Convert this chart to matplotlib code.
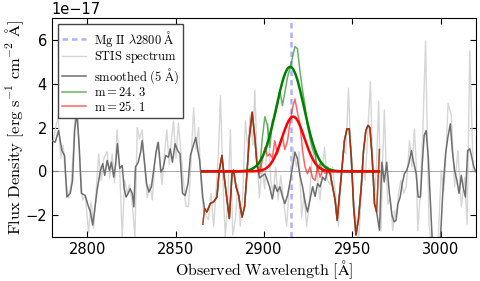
import numpy as np
import matplotlib
matplotlib.use("Agg")
import matplotlib.pyplot as plt

plt.rcParams['mathtext.fontset'] = 'cm'

# Mg II 2800 redshifted
mg_line = 2915.2

# STIS spectrum (raw), flux in 1e-17
raw_wave = [2780.0, 2781.9, 2783.6, 2785.0, 2786.4, 2787.8, 2789.5, 2790.9, 2792.2, 2793.4,
            2794.7, 2796.0, 2797.4, 2798.9, 2800.8, 2802.2, 2803.6, 2805.0, 2806.5, 2807.9,
            2809.4, 2811.3, 2812.7, 2814.1, 2815.5, 2816.9, 2818.3, 2819.8, 2821.2, 2822.6,
            2823.9, 2825.3, 2827.0, 2828.3, 2829.6, 2831.1, 2832.5, 2834.0, 2835.4, 2836.8,
            2838.2, 2839.5, 2840.9, 2842.3, 2843.6, 2845.0, 2846.4, 2847.7, 2848.8, 2850.2,
            2851.6, 2853.0, 2854.4, 2855.8, 2857.3, 2858.7, 2860.2, 2861.5, 2863.0, 2864.4,
            2865.8, 2867.2, 2868.6, 2870.0, 2871.5, 2872.9, 2874.2, 2875.4, 2876.8, 2878.1,
            2879.5, 2881.0, 2882.3, 2883.8, 2885.2, 2886.6, 2888.0, 2889.5, 2890.9, 2892.2,
            2893.6, 2894.8, 2896.2, 2897.4, 2898.8, 2900.4, 2902.3, 2903.8, 2905.2, 2906.6,
            2908.0, 2909.5, 2910.9, 2912.8, 2914.2, 2915.3, 2916.5, 2918.4, 2919.8, 2921.3,
            2922.7, 2924.1, 2925.6, 2927.0, 2928.9, 2930.3, 2931.7, 2933.0, 2934.2, 2935.8,
            2937.4, 2938.8, 2940.4, 2942.1, 2943.5, 2944.9, 2946.3, 2947.8, 2949.2, 2950.6,
            2952.0, 2953.5, 2955.0, 2956.0, 2957.3, 2958.7, 2960.2, 2961.3, 2962.4, 2963.6,
            2964.9, 2966.2, 2967.1, 2968.1, 2969.0, 2970.0, 2971.4, 2972.8, 2973.8, 2974.7,
            2976.1, 2977.5, 2979.0, 2980.4, 2981.4, 2982.3, 2983.7, 2985.1, 2986.0, 2987.0,
            2988.4, 2989.8, 2991.4, 2993.3, 2994.6, 2996.5, 2998.4, 3000.3, 3001.6, 3002.8,
            3004.1, 3005.9, 3007.8, 3009.7, 3011.6, 3013.5, 3014.9, 3016.4, 3018.3, 3020.2]
raw_flux = [1.0, 1.9, 2.5, 0.6, 1.2, -0.4, -1.2, -0.6, 1.0, 3.3,
            2.2, 0.2, -1.3, -1.1, -2.8, -1.4, -2.6, -1.0, 0.8, -0.4,
            0.6, 0.9, -0.3, 0.8, -0.5, 1.9, 0.3, -3.0, -0.4, -1.0,
            -0.6, -1.3, -3.0, 2.0, 1.5, 1.9, 0.2, -1.2, -0.6, -1.3,
            0.35, 1.3, 0.6, -0.6, 0.7, 1.9, 0.3, 1.5, 2.3, 0.6,
            2.2, 0.9, -0.4, -1.6, -1.6, 0.4, 2.9, 1.0, 2.0, -0.6,
            -1.8, -2.0, -2.2, -1.0, -2.5, -0.9, 0.9, 3.45, -0.5, -3.0,
            -1.4, 1.9, -2.9, -2.2, -0.6, -2.5, -1.0, 2.3, 1.0, 2.6,
            1.2, 3.7, 0.4, -1.2, 0.3, -0.8, 2.2, -0.4, -1.0, 0.2,
            -1.3, -0.2, -1.2, -2.5, -0.8, -0.3, 1.1, 0.2, 0.9, -2.1,
            -1.0, -2.5, -1.5, 0.5, 0.95, -0.3, -1.3, 0.0, 1.1, -0.4,
            -0.6, 0.2, -1.0, -2.5, -0.6, 1.0, 0.8, 3.8, 0.4, -1.2,
            -2.2, -3.1, -1.2, 0.2, -0.4, 1.8, 4.1, 0.8, -1.5, 0.3,
            3.2, -2.7, 0.5, 2.8, 0.4, -1.5, -1.2, -2.7, -1.8, -2.1,
            -1.0, -0.4, -1.0, -0.7, 0.3, 1.4, 0.2, 1.94, 0.5, -2.7,
            -1.0, 1.7, 5.95, -2.4, -3.3, -3.6, -3.3, 0.05, -0.9, 0.5,
            3.1, 2.6, -0.7, 0.95, -1.6, -0.26, -2.4, 5.5, 0.05, 0.05]

# smoothed (5 A) spectrum
sm_wave = [2780.0, 2781.9, 2783.8, 2785.7, 2787.2, 2788.5, 2790.4, 2791.7, 2792.9, 2794.2,
           2795.5, 2796.7, 2798.9, 2800.5, 2801.8, 2803.1, 2804.2, 2805.6, 2807.5, 2808.8,
           2809.9, 2811.3, 2812.6, 2813.7, 2815.0, 2816.0, 2817.1, 2818.4, 2819.8, 2820.9,
           2822.0, 2823.2, 2824.3, 2825.5, 2826.4, 2827.3, 2828.9, 2830.2, 2831.1, 2832.3,
           2833.6, 2834.9, 2836.3, 2837.8, 2839.0, 2840.2, 2841.7, 2842.9, 2844.4, 2845.9,
           2847.0, 2848.2, 2849.7, 2851.2, 2852.5, 2853.9, 2855.4, 2857.0, 2858.4, 2860.0,
           2861.4, 2862.6, 2863.6, 2864.6, 2865.4, 2866.4, 2867.7, 2869.6, 2871.5, 2873.4,
           2874.7, 2876.2, 2877.5, 2879.1, 2880.4, 2881.9, 2882.8, 2884.2, 2885.7, 2886.6,
           2887.6, 2889.0, 2890.4, 2891.7, 2893.3, 2894.8,
           2896.0, 2897.5, 2899.0, 2900.5, 2901.9, 2903.3, 2904.7, 2906.1, 2907.6, 2909.0,
           2910.4, 2911.8, 2913.3, 2914.7, 2916.1, 2917.5, 2918.9, 2920.3, 2921.8, 2923.2,
           2924.6, 2926.0, 2927.5, 2928.9, 2930.3, 2931.7, 2933.2, 2934.6, 2936.0, 2937.4,
           2938.8, 2940.2, 2941.4, 2942.6, 2944.0, 2945.5, 2946.9, 2948.2, 2949.4, 2950.7,
           2952.0, 2953.4, 2955.0, 2956.3, 2957.6, 2958.8, 2959.9, 2960.9, 2961.8, 2962.5,
           2963.7, 2965.3, 2966.7, 2968.0, 2969.4, 2970.9, 2972.4, 2973.6, 2974.7, 2975.8,
           2977.0, 2978.2, 2979.4, 2980.7, 2981.9, 2983.4, 2984.6, 2986.1, 2987.2, 2988.5,
           2989.5, 2990.6, 2991.7, 2992.9, 2994.0, 2995.2, 2997.4, 2999.7, 3001.2, 3002.7,
           3004.0, 3005.4, 3006.5, 3007.8, 3009.1, 3010.3, 3011.6, 3012.6, 3013.9, 3015.2,
           3016.4, 3017.5, 3018.7, 3020.0]
sm_flux = [1.41, 1.33, 1.86, 0.95, 0.73, -1.17, -1.0, -0.41, 1.86, 2.7,
           1.11, -1.0, -1.1, -1.55, -1.85, -2.45, -1.77, -0.86, 0.05, 0.35,
           -0.18, 0.5, 0.05, 0.42, -0.26, 0.27, 1.26, 0.14, 0.27, -0.79,
           -1.17, -1.0, -0.79, -1.0, -1.62, 0.2, 0.42, 0.88, 1.41, 0.5,
           -0.56, -0.94, -0.71, 0.2, 0.9, 1.33, -0.03, 0.14, 0.73, 0.65,
           1.03, 0.42, 1.26, 0.95, 0.8, -1.0, -1.1, -0.56, 0.73, 1.18,
           1.55, 0.95, 0.5, -0.4, -1.2, -1.7, -1.85, -1.47, -1.39, -1.17,
           0.05, 0.73, -0.26, -1.32, -2.15, -0.11, 0.05, -0.71, -1.1, -1.62,
           -2.08, -1.62, -0.03, 1.55, 2.7, 1.55,
           0.3, -0.3, -0.2, -0.11, -0.4, -0.74, -1.26, -0.62, -0.92, -0.7,
           -1.14, -1.47, -1.1, -0.5, 0.2, 0.88, 0.58, -0.18, -0.7, -1.39,
           -1.85, -1.3, -0.7, -1.14, -0.56, -0.7, -0.26, -0.41, 0.05, -0.11,
           -0.7, -1.3, -2.23, -1.14, 0.05, 1.41, 1.94, 1.94, 0.65, -1.62,
           -2.9, -2.2, -0.7, 0.95, 1.86, 2.1, 2.0, 0.95, -0.26, -1.47,
           -1.85, -2.68, 0.42, -0.48, 0.42, -1.0, -2.0, -2.3, -2.23, -1.47,
           -1.17, -0.56, -0.11, 0.05, 0.35, 0.95, 0.42, -0.11, -1.17, -1.17,
           0.35, 1.64, 1.86, 0.65, -1.17, -3.2, -3.6, -3.2, -0.86, 0.8,
           1.56, 2.17, 0.95, 0.05, -0.41, -1.0, -0.18, -0.71, -1.17, 0.95,
           1.03, 0.65, 0.2, -0.03]

# injected-line window and its end points
win_lo, win_hi = 2865.0, 2966.0
win_first, win_last = -2.41, 1.0

# smoothed spectrum + injected line, where it differs from the plain smoothed one
pk_wave = [2896.0, 2897.5, 2899.0, 2900.5, 2901.9, 2903.3, 2904.7, 2906.1, 2907.6, 2909.0,
           2910.4, 2911.8, 2913.3, 2914.7, 2916.1, 2917.5, 2918.9, 2920.3, 2921.8, 2923.2,
           2924.6, 2926.0, 2927.5, 2928.9, 2930.3, 2931.7, 2933.2, 2934.6, 2936.0, 2937.4]
green_pk = [0.35, 0.0, 1.5, 2.5, 2.1, 1.1, 2.3, 2.5, 3.0, 3.7,
            3.0, 3.6, 4.3, 4.7, 5.2, 5.7, 5.6, 4.6, 3.7, 3.0,
            2.1, 1.5, 1.0, 0.75, 0.1, 0.35, 0.0, 0.1, 0.2, 0.0]
red_pk = [0.35, -0.1, 0.5, 1.1, 0.7, 0.8, 0.6, 1.4, 0.8, 1.2,
          1.56, 1.0, 1.4, 2.2, 2.9, 3.3, 2.7, 2.17, 0.95, 0.2,
          -0.11, 0.2, -0.3, -0.41, 0.2, -0.26, 0.1, -0.1, 0.0, -0.1]

# gaussian line models: amplitude, centre, sigma
green_model = (4.77, 2914.8, 7.9)
red_model = (2.5, 2916.5, 6.4)

scale = 1e-17

raw_wave = np.array(raw_wave)
raw_flux = np.array(raw_flux) * scale
sm_wave = np.array(sm_wave)
sm_flux = np.array(sm_flux) * scale

win = (sm_wave >= win_lo) & (sm_wave <= win_hi)
win_wave = sm_wave[win]
base = sm_flux[win].copy()
base[0] = win_first * scale
base[-1] = win_last * scale
at_pk = np.isin(np.round(win_wave, 1), np.round(pk_wave, 1))
green_thin = base.copy()
green_thin[at_pk] = np.array(green_pk) * scale
red_thin = base.copy()
red_thin[at_pk] = np.array(red_pk) * scale


def gauss(x, p):
    a, mu, s = p
    return a * scale * np.exp(-0.5 * ((x - mu) / s) ** 2)


xm = np.linspace(2865, 2965, 400)

fig = plt.figure(figsize=(4.8, 2.81), dpi=100)
ax = fig.add_axes([0.108, 0.156, 0.884, 0.78])

ax.axvline(mg_line, color='#b0b0ff', ls=(0, (2.2, 1.6)), lw=1.8, zorder=1,
           label=r'$\mathrm{Mg\ II\ \lambda2800\ \AA}$')
ax.plot(raw_wave, raw_flux, color='#d6d6d6', lw=1, zorder=2,
        label=r'$\mathrm{STIS\ spectrum}$')
ax.axhline(0, color='#999999', lw=0.6, zorder=2.5)
ax.plot(sm_wave, sm_flux, color='#6e6e6e', lw=1.1, zorder=3,
        label=r'$\mathrm{smoothed\ (5\ \AA)}$')
ax.plot(win_wave, green_thin, color='green', alpha=0.6, lw=1.1, zorder=4,
        label=r'$\mathrm{m=24.\,3}$')
ax.plot(win_wave, red_thin, color='red', alpha=0.6, lw=1.1, zorder=5,
        label=r'$\mathrm{m=25.\,1}$')
ax.plot(xm, gauss(xm, green_model), color='green', lw=1.8, zorder=6)
ax.plot(xm, gauss(xm, red_model), color='red', lw=1.8, zorder=7)

ax.set_xlim(2780, 3020)
ax.set_ylim(-3e-17, 7e-17)
ax.set_xticks([2800, 2850, 2900, 2950, 3000])
ax.set_yticks(np.array([-2, 0, 2, 4, 6]) * scale)
ax.tick_params(direction='in', top=True, right=True, length=4, labelsize=10.5)
ax.yaxis.get_offset_text().set_fontsize(10.5)

ax.set_xlabel(r'$\mathrm{Observed\ Wavelength\ [\AA]}$', fontsize=11.5, labelpad=1)
ax.set_ylabel(r'$\mathrm{Flux\ Density\ [erg\ s^{-1}\ cm^{-2}\ \AA]}$', fontsize=11.8)
ax.yaxis.set_label_coords(-0.06, 0.5)

leg = ax.legend(loc='upper left', fontsize=9, fancybox=False, framealpha=1,
                edgecolor='#444444', borderaxespad=0.5, handlelength=1.9,
                handletextpad=0.6, labelspacing=0.05, borderpad=0.35)
leg.get_frame().set_linewidth(1)
leg.set_zorder(10)

fig.savefig('out.png', dpi=100)
